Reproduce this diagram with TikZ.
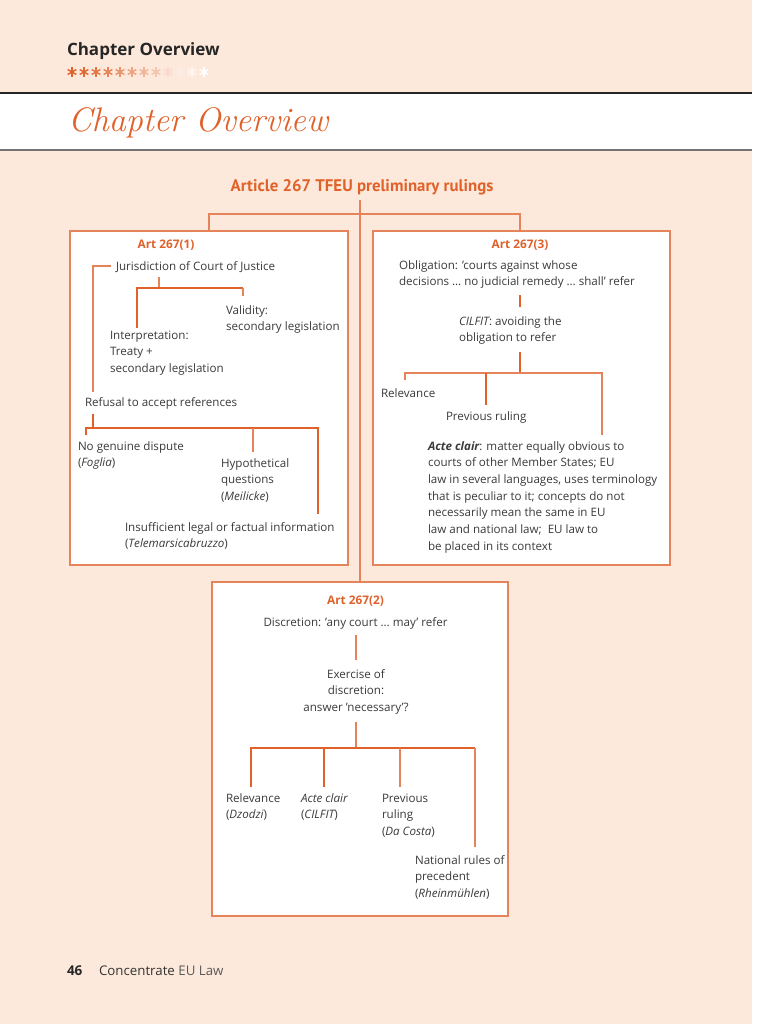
\documentclass[tikz,border=0pt]{standalone}
\usepackage{fontspec}
\setmainfont{Open Sans}
\newfontfamily\titlefont{PT Sans}
\newfontfamily\handfont{Latin Modern Roman}
\definecolor{peach}{HTML}{FDE9DB}
\definecolor{org}{HTML}{E0622A}
\definecolor{orgl}{HTML}{E5845A}
\definecolor{txt}{HTML}{3A3A3A}
\newcommand\myL[1]{\begin{tabular}[t]{@{}l@{}}#1\end{tabular}}
\newcommand\myC[1]{\begin{tabular}[t]{@{}c@{}}#1\end{tabular}}
\begin{document}
\begin{tikzpicture}[x=1pt,y=-1pt,
  every node/.style={inner sep=0pt, outer sep=0pt},
  body/.style={font=\fontsize{11.6}{16.7}\selectfont, text=txt, anchor=base west},
  bodyc/.style={body, anchor=base},
  head/.style={font=\bfseries\fontsize{11.8}{13}\selectfont, text=org, anchor=base},
  box/.style={draw=orgl, line width=1.3pt, fill=white, anchor=north west},
  tl/.style={draw=org, line width=2.4pt},
  fl/.style={draw=orgl, line width=1.2pt},
  trunkline/.style={draw=orgl, line width=1.1pt}]
\useasboundingbox (0,0) rectangle (768,1024);
\fill[peach] (0,0) rectangle (752,1024);
\fill[white] (752,0) rectangle (768,1024);
% header band
\fill[white] (0,93) rectangle (752,150);
\draw[black!85, line width=1.3pt] (0,93) -- (752,93);
\draw[black!55, line width=2pt] (0,150) -- (752,150);
\node[anchor=base west, font=\bfseries\fontsize{17}{20}\selectfont, text=black!85] (hd) at (67,56) {Chapter Overview};
% asterisks
\foreach \k/\p in {0/100,1/95,2/88,3/78,4/68,5/58,6/48,7/36,8/24,9/12,10/5,11/0}{
  \begin{scope}[shift={(72+12*\k,72)}]
    \foreach \a in {90,30,150}{\draw[org!\p!white, line width=1.5pt] (\a:5) -- (\a+180:5);}
  \end{scope}
}
\node[anchor=base west, font=\handfont\itshape\fontsize{34}{36}\selectfont, text=org] (hand) at (68,132) {Chapter Overview};
% title
\node[anchor=base, font=\titlefont\bfseries\fontsize{16.8}{18}\selectfont, text=org] (title) at (362,192) {Article 267 TFEU preliminary rulings};
% boxes
\node[box, minimum width=278pt, minimum height=334pt] (L) at (70,231) {};
\node[box, minimum width=297pt, minimum height=334pt] (R) at (373,231) {};
\node[box, minimum width=296pt, minimum height=334pt] (B) at (212,582) {};
% top connectors
\coordinate (trunk) at (360,200);
\draw[trunkline] (trunk) -- (trunk |- B.north);
\draw[trunkline] (209,231) -- (209,214) -- (520,214) -- (520,231);
% ---------- left box
\node[head] (a1) at (166,248) {Art 267(1)};
\node[body] (jur) at (116,270) {Jurisdiction of Court of Justice};
\node[body] (val) at (226,314) {\myL{Validity:\\secondary legislation}};
\node[body] (int) at (110,339) {\myL{Interpretation:\\Treaty +\\secondary legislation}};
\node[body] (ref) at (85,406) {Refusal to accept references};
\node[body] (fog) at (78,450) {\myL{No genuine dispute\\({\itshape Foglia})}};
\node[body] (hyp) at (221,467) {\myL{Hypothetical\\questions\\({\itshape Meilicke})}};
\node[body] (ins) at (125,531) {\myL{Insufficient legal or factual information\\({\itshape Telemarsicabruzzo})}};
\draw[fl] (111,266) -- (93,266) -- (93,392);
\draw[fl] (159,277) -- (159,288);
\draw[tl] (137,328) -- (137,288) -- (243,288);
\draw[fl] (243,288) -- (243,296);
\draw[tl] (93,414) -- (93,428);
\draw[tl] (86,435) -- (86,428) -- (318,428) -- (318,514);
\draw[fl] (253,428) -- (253,452);
% ---------- right box
\node[head] (a3) at (520,248) {Art 267(3)};
\node[body] (obl) at (399,269) {\myL{Obligation: 'courts against whose\\decisions \dots\ no judicial remedy \dots\ shall' refer}};
\node[body] (cil) at (459,325) {\myL{{\itshape CILFIT}: avoiding the\\obligation to refer}};
\node[body] (rel) at (381,397) {Relevance};
\node[body] (prv) at (446,420) {Previous ruling};
\node[body] (act) at (428,450) {\myL{{\bfseries\itshape Acte clair}: matter equally obvious to\\courts of other Member States; EU\\law in several languages, uses terminology\\that is peculiar to it; concepts do not\\necessarily mean the same in EU\\law and national law;\ \ EU law to\\be placed in its context}};
\draw[tl] (520,295) -- (520,307);
\draw[tl] (520,352) -- (520,373);
\draw[fl] (405,380) -- (405,373) -- (602,373) -- (602,435);
\draw[tl] (486,373) -- (486,405);
% ---------- bottom box
\node[head] (a2) at (355.5,604) {Art 267(2)};
\node[bodyc] (dis) at (355.5,626) {Discretion: 'any court \dots\ may' refer};
\node[bodyc] (exe) at (356,678) {\myC{Exercise of\\discretion:\\answer 'necessary'?}};
\node[body] (brel) at (226,802) {\myL{Relevance\\({\itshape Dzodzi})}};
\node[body] (bact) at (301,802) {\myL{{\itshape Acte clair}\\({\itshape CILFIT})}};
\node[body] (bprv) at (382,802) {\myL{Previous\\ruling\\({\itshape Da Costa})}};
\node[body] (bnat) at (415,864) {\myL{National rules of\\precedent\\({\itshape Rheinmühlen})}};
\draw[fl] (356,635) -- (356,660);
\draw[fl] (356,722) -- (356,748);
\draw[tl] (251,787) -- (251,748) -- (475,748);
\draw[tl] (324,748) -- (324,787);
\draw[fl] (400,748) -- (400,787);
\draw[fl] (475,748) -- (475,847);
% footer
\node[anchor=base west, font=\bfseries\fontsize{13.5}{16}\selectfont, text=black!85] (pg) at (67,975) {46};
\node[anchor=base west, font=\fontsize{13.3}{16}\selectfont, text=black!80] (bk) at (99,975) {Concentrate \textcolor{black!65}{EU Law}};
\end{tikzpicture}
\end{document}
